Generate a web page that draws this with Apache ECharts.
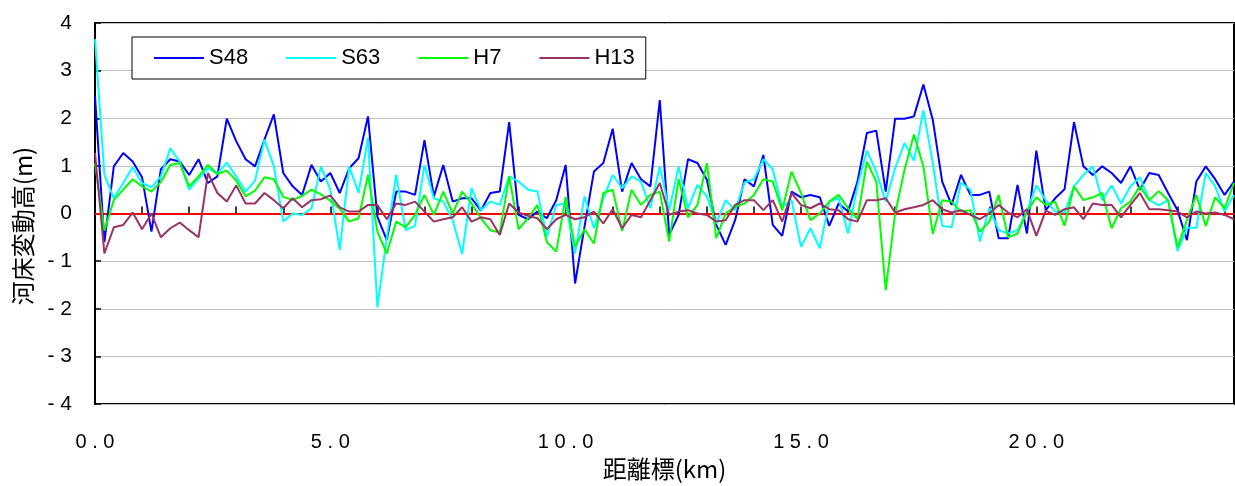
<!DOCTYPE html>
<html>
<head>
<meta charset="utf-8">
<script src="https://cdn.jsdelivr.net/npm/echarts@6/dist/echarts.min.js"></script>
<style>
html,body{margin:0;padding:0;background:#fff;}
#chart{width:1235px;height:486px;}
</style>
</head>
<body>
<div id="chart"></div>
<script>
// distance markers (km)
const distances = [0.0,0.2,0.4,0.6,0.8,1.0,1.2,1.4,1.6,1.8,2.0,2.2,2.4,2.6,2.8,3.0,3.2,3.4,3.6,3.8,
4.0,4.2,4.4,4.6,4.8,5.0,5.2,5.4,5.6,5.8,6.0,6.2,6.4,6.6,6.8,7.0,7.2,7.4,7.6,7.8,
8.0,8.2,8.4,8.6,8.8,9.0,9.2,9.4,9.6,9.8,10.0,10.2,10.4,10.6,10.8,11.0,11.2,11.4,11.6,11.8,
12.0,12.2,12.4,12.6,12.8,13.0,13.2,13.4,13.6,13.8,14.0,14.2,14.4,14.6,14.8,15.0,15.2,15.4,15.6,15.8,
16.0,16.2,16.4,16.6,16.8,17.0,17.2,17.4,17.6,17.8,18.0,18.2,18.4,18.6,18.8,19.0,19.2,19.4,19.6,19.8,
20.0,20.2,20.4,20.6,20.8,21.0,21.2,21.4,21.6,21.8,22.0,22.2,22.4,22.6,22.8,23.0,23.2,23.4,23.6,23.8,
24.0,24.2];

const seriesNames = ['S48','S63','H7','H13'];

const s48 = [2.46,-0.6,0.99,1.27,1.09,0.76,-0.38,0.93,1.14,1.09,0.81,1.14,0.64,0.78,1.99,1.52,1.14,0.99,1.55,2.08,
0.85,0.57,0.39,1.02,0.67,0.85,0.43,0.95,1.16,2.04,-0.07,-0.56,0.46,0.46,0.39,1.54,0.36,1.02,0.25,0.32,
0.32,0.06,0.43,0.46,1.92,-0.03,-0.12,0.04,-0.1,0.28,1.02,-1.47,-0.28,0.88,1.06,1.78,0.46,1.06,0.72,0.57,
2.38,-0.45,-0.03,1.14,1.06,0.71,-0.24,-0.66,-0.14,0.72,0.57,1.23,-0.24,-0.47,0.46,0.34,0.39,0.34,-0.26,0.21,
0.04,0.67,1.69,1.74,0.46,1.99,1.99,2.04,2.71,1.97,0.67,0.18,0.81,0.39,0.39,0.46,-0.52,-0.52,0.6,-0.42,
1.32,0.07,0.32,0.51,1.92,0.99,0.81,0.99,0.85,0.64,0.99,0.5,0.85,0.81,0.43,0.07,-0.56,0.67,0.99,0.72,
0.39,0.67];

const s63 = [3.66,0.81,0.32,0.64,0.97,0.64,0.55,0.78,1.37,1.09,0.5,0.74,0.95,0.83,1.07,0.78,0.46,0.69,1.55,0.99,
-0.17,0,-0.03,0.11,0.99,0.5,-0.77,0.99,0.43,1.59,-1.97,-0.5,0.81,-0.35,-0.26,1.02,0.32,0.25,-0.14,-0.85,
0.53,0.07,0.25,0.18,0.78,0.67,0.5,0.46,-0.49,0.18,0.21,-0.84,0.36,-0.31,0.32,0.81,0.53,0.78,0.67,0.11,
0.99,0.07,0.99,0.11,0.6,0.36,-0.21,0.28,0.07,0.65,0.72,1.14,0.93,0.14,0.28,-0.7,-0.31,-0.73,0.25,0.32,
-0.42,0.57,1.32,0.88,0.25,0.95,1.48,1.11,2.17,1.06,-0.26,-0.29,0.65,0.5,-0.59,0.11,-0.35,-0.42,-0.35,0.04,
0.59,0.28,0.04,0.02,0.57,0.81,0.99,0.28,0.59,0.21,0.57,0.76,0.28,0.17,0.28,-0.79,-0.3,-0.3,0.85,0.57,
0.04,0.39];

const h7 = [1.06,-0.36,0.28,0.5,0.72,0.57,0.46,0.66,1.02,1.06,0.57,0.78,1.02,0.83,0.9,0.69,0.36,0.48,0.76,0.72,
0.35,0.28,0.37,0.5,0.4,0.27,0.1,-0.17,-0.1,0.81,-0.38,-0.84,-0.17,-0.29,-0.03,0.39,-0.03,0.46,0,0.46,
0.21,-0.1,-0.35,-0.4,0.78,-0.33,-0.1,0.18,-0.6,-0.8,0.35,-0.7,-0.33,-0.63,0.43,0.5,-0.37,0.5,0.18,0.39,
0.46,-0.59,0.72,-0.08,0.18,1.06,-0.52,0,0.14,0.21,0.39,0.72,0.67,0.07,0.88,0.43,-0.14,0,0.25,0.39,
0.11,-0.12,1.09,0.67,-1.61,0,0.92,1.66,0.99,-0.43,0.28,0.25,0.04,0.07,-0.38,-0.17,0.39,-0.5,-0.42,0.04,
0.34,0.18,0.25,-0.26,0.57,0.28,0.34,0.43,-0.31,0.11,0.25,0.57,0.28,0.47,0.28,-0.71,-0.14,0.39,-0.26,0.34,
0.11,0.64];

const h13 = [1.27,-0.84,-0.29,-0.24,0.02,-0.33,0,-0.5,-0.31,-0.19,-0.35,-0.5,0.85,0.43,0.25,0.59,0.21,0.21,0.43,0.28,
0.11,0.32,0.13,0.28,0.3,0.38,0.13,0.04,0.04,0.18,0.18,-0.12,0.21,0.18,0.25,0.04,-0.17,-0.12,-0.08,0.13,
-0.17,-0.08,-0.12,-0.45,0.21,0.02,-0.05,-0.1,-0.33,-0.12,-0.03,-0.12,-0.08,0.04,-0.21,0.09,-0.31,-0.03,-0.08,0.28,
0.64,-0.03,0.04,0.07,0,-0.03,-0.17,-0.14,0.18,0.28,0.28,0.07,0.28,-0.17,0.43,0.18,0.11,0.21,0.09,0.07,
-0.12,-0.17,0.28,0.28,0.32,0.02,0.09,0.13,0.18,0.28,0.09,0.02,0.07,-0.03,-0.12,0,0.18,0.02,-0.08,0.09,
-0.47,0.06,-0.03,0.09,0.13,-0.12,0.21,0.18,0.18,-0.08,0.18,0.43,0.09,0.09,0.07,0.04,-0.08,0.04,0,0.02,
-0.03,-0.12];

const xTickLabels = ['0.0','5.0','10.0','15.0','20.0'];
const yTickLabels = ['- 4','- 3','- 2','- 1','0','1','2','3','4'];
const xAxisTitle = '距離標(km)';
const yAxisTitle = '河床変動高(m)';

const colors = ['#0000FF','#00FFFF','#00FF00','#993366'];
const allValues = [s48, s63, h7, h13];

const pair = (vals) => distances.map((d, i) => [d, vals[i]]);
const spaced = (s) => s.split('').join(' ');
const latin = '"Liberation Sans", Arial, sans-serif';
const cjk = '"Noto Sans CJK JP", sans-serif';

const chart = echarts.init(document.getElementById('chart'), null, {renderer: 'canvas'});

const series = seriesNames.map((name, k) => ({
  name: name,
  type: 'line',
  data: pair(allValues[k]),
  symbol: 'none',
  showSymbol: false,
  lineStyle: {color: colors[k], width: 2},
  itemStyle: {color: colors[k]},
  animation: false,
  z: 3 + k
}));
series[0].markLine = {
  silent: true,
  z: 1,
  symbol: ['none','none'],
  label: {show: false},
  lineStyle: {color: '#FF0000', width: 2, type: 'solid'},
  data: [{yAxis: 0}],
  animation: false
};

chart.setOption({
  backgroundColor: '#ffffff',
  animation: false,
  grid: {left: 95, right: 1, top: 23, bottom: 82, show: true, borderColor: '#000', borderWidth: 2, backgroundColor: 'transparent'},
  legend: {
    data: seriesNames,
    icon: 'rect',
    left: 132, top: 37,
    padding: [10, 11, 10, 22],
    itemGap: 38,
    itemWidth: 50,
    itemHeight: 2,
    borderColor: '#000',
    borderWidth: 1,
    backgroundColor: '#ffffff',
    textStyle: {fontFamily: latin, fontSize: 22, color: '#000'}
  },
  xAxis: {
    type: 'value',
    min: 0, max: 24.2, interval: 1,
    axisLine: {show: true, lineStyle: {color: '#000', width: 2}},
    axisTick: {show: true, inside: true, length: 7, lineStyle: {color: '#000', width: 1.5}},
    splitLine: {show: false},
    axisLabel: {
      margin: 28,
      fontFamily: latin, fontSize: 20, color: '#000',
      showMaxLabel: false,
      formatter: (v) => {
        const r = Math.round(v);
        if (Math.abs(v - r) < 1e-6 && r % 5 === 0 && xTickLabels[r / 5] !== undefined) return spaced(xTickLabels[r / 5]);
        return '';
      }
    },
    name: xAxisTitle,
    nameLocation: 'middle',
    nameGap: 53,
    nameTextStyle: {fontFamily: cjk, fontSize: 24, color: '#000'}
  },
  yAxis: {
    type: 'value',
    min: -4, max: 4, interval: 1,
    axisLine: {show: true, lineStyle: {color: '#000', width: 2}},
    axisTick: {show: true, inside: true, length: 6, lineStyle: {color: '#000', width: 1.5}},
    splitLine: {show: true, lineStyle: {color: '#C0C0C0', width: 1}},
    axisLabel: {
      margin: 23,
      fontFamily: latin, fontSize: 21, color: '#000',
      formatter: (v) => yTickLabels[Math.round(v) + 4]
    }
  },
  graphic: [{
    type: 'text',
    x: 23, y: 226,
    rotation: Math.PI / 2,
    style: {
      text: yAxisTitle,
      fontFamily: cjk, fontSize: 24, fill: '#000',
      align: 'center', verticalAlign: 'middle'
    }
  }],
  series: series
});
</script>
</body>
</html>
